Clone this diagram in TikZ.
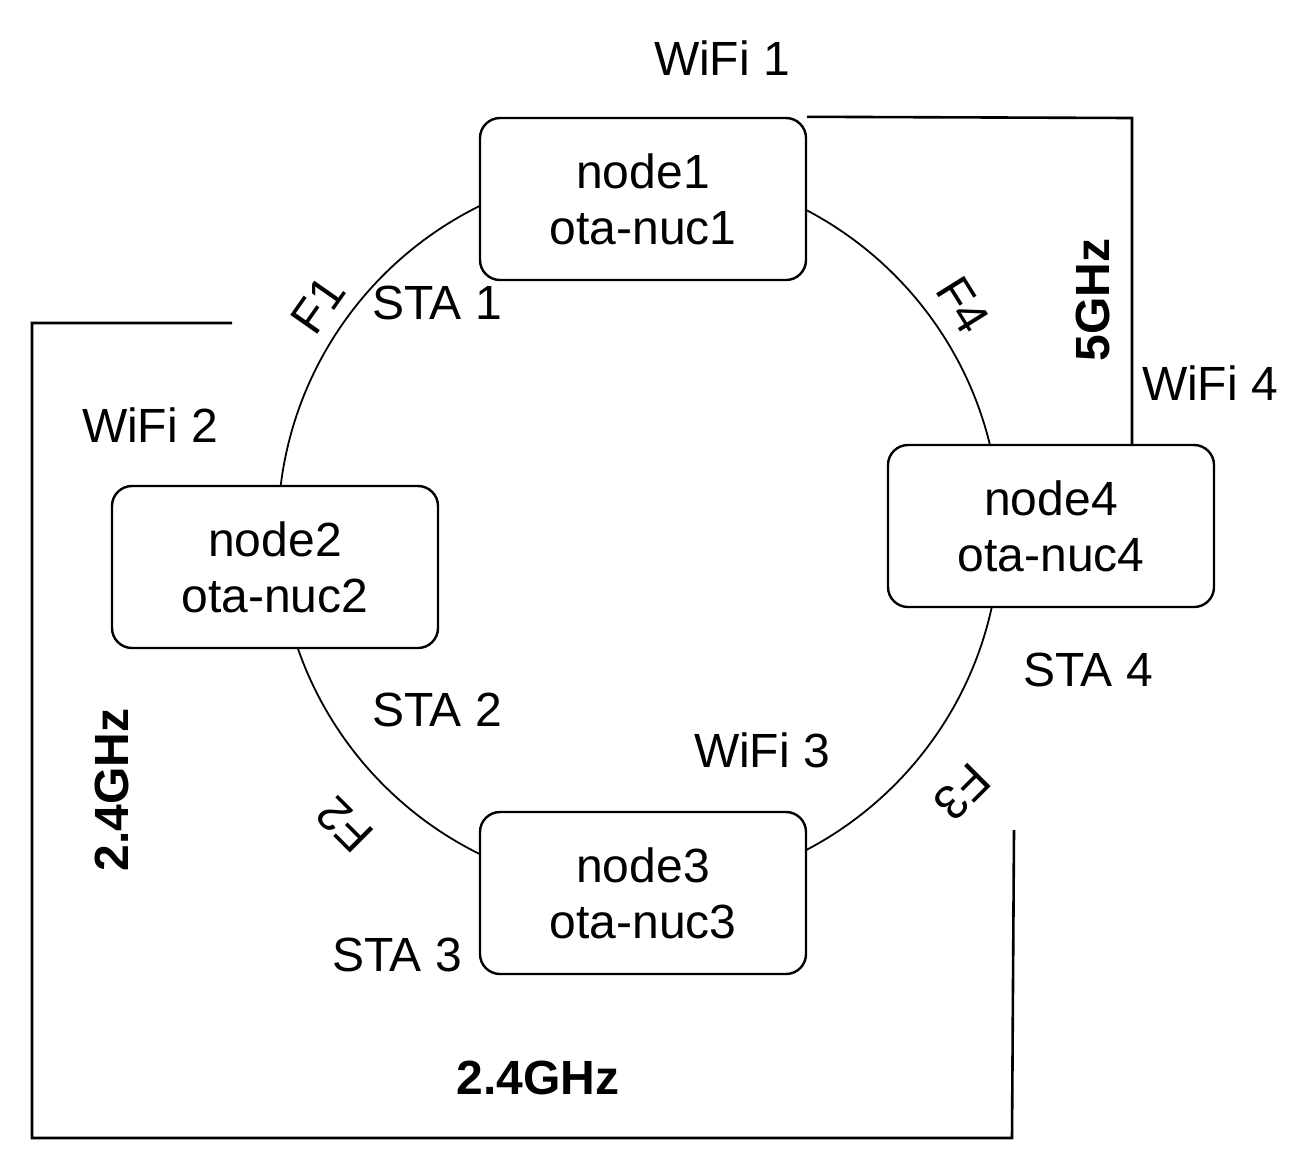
\documentclass[tikz,border=0pt]{standalone}
\usepackage{fontspec}
\setmainfont{Liberation Sans}
\begin{document}
\begin{tikzpicture}[x=0.5pt,y=-0.5pt,
  box/.style={draw,line width=1.2pt,rounded corners=10pt,fill=white,minimum width=163pt,minimum height=81pt,align=center,font=\fontsize{24}{28}\selectfont,inner sep=0pt},
  lbl/.style={font=\fontsize{24}{26}\selectfont,inner sep=0pt},
  blbl/.style={font=\bfseries\fontsize{24}{26}\selectfont,inner sep=0pt},
  wire/.style={line width=1.3pt}]
\useasboundingbox (0,0) rectangle (1311,1174);
\draw[line width=0.9pt] (639,530) circle[radius=361];
\node[box] (n1) at (643,199) {node1\\ota-nuc1};
\node[box] (n2) at (275,567) {node2\\ota-nuc2};
\node[box] (n3) at (643,893) {node3\\ota-nuc3};
\node[box] (n4) at (1051,526) {node4\\ota-nuc4};
\coordinate (a1) at (1132,118);
\coordinate (b1) at (232,323);
\coordinate (b2) at (32,323);
\coordinate (b3) at (32,1138);
\coordinate (b4) at (1012,1138);
\coordinate (b5) at (1014,830);
\draw[wire] (n1.north east) -- (a1) -- (a1 |- n4.north);
\draw[wire] (b1) -- (b2) -- (b3) -- (b4) -- (b5);
\node[lbl] at (722,58) {WiFi 1};
\node[blbl,rotate=90] at (1093,300) {5GHz};
\node[lbl] at (1210,383) {WiFi 4};
\node[lbl] at (1088,670) {STA 4};
\node[lbl] at (762,750) {WiFi 3};
\node[lbl] at (437,303) {STA 1};
\node[lbl] at (150,425) {WiFi 2};
\node[lbl] at (437,710) {STA 2};
\node[lbl] at (397,955) {STA 3};
\node[blbl,rotate=90] at (112,790) {2.4GHz};
\node[blbl] at (538,1078) {2.4GHz};
\node[lbl,rotate=55] at (318,305) {F1};
\node[lbl,rotate=-58] at (963,305) {F4};
\node[lbl,rotate=225] at (962,792) {F3};
\node[lbl,rotate=135] at (345,825) {F2};
\end{tikzpicture}
\end{document}
